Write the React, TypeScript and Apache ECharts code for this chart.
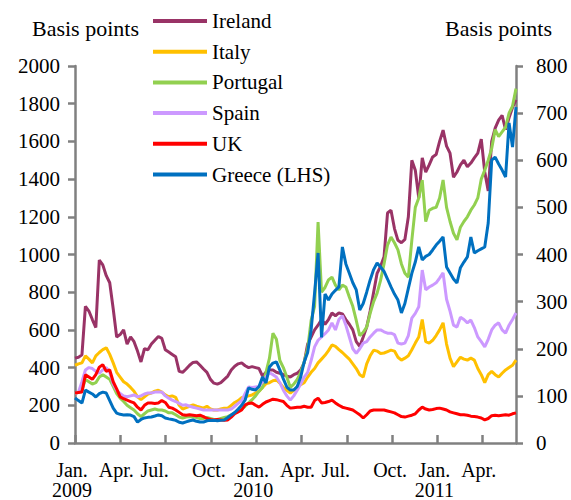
import React, { useEffect, useRef } from "react";
import * as echarts from "echarts";

// Weekly observations, starting first week of Jan. 2009 (basis points)
const ireland = [180,182,187,290,280,262,245,388,378,355,340,285,225,230,240,210,225,215,195,172,200,198,210,218,226,222,198,193,188,183,152,150,157,165,171,172,165,157,150,135,127,125,128,135,142,155,163,168,170,164,160,162,160,158,142,150,155,155,150,148,145,142,140,145,148,155,170,210,225,240,250,262,252,262,276,270,276,274,262,252,240,215,205,225,246,280,320,360,375,395,488,494,455,430,425,432,480,600,579,520,605,575,590,607,612,640,664,630,615,564,575,590,600,586,594,605,615,645,575,535,640,668,685,695,665,690,712,728];
const italy = [165,168,170,185,178,170,185,192,198,202,188,170,150,140,130,125,118,110,98,92,98,104,106,110,112,108,102,98,100,97,80,72,75,78,81,78,76,74,78,72,70,70,72,74,74,80,86,90,96,98,100,102,106,110,118,126,128,132,134,127,118,112,106,112,118,124,128,140,150,158,170,178,186,196,208,205,198,192,185,178,168,158,145,140,168,185,197,195,190,191,194,197,195,182,176,180,185,198,212,225,262,215,212,218,228,240,255,210,180,162,172,182,178,176,180,176,158,145,128,145,152,145,140,148,155,160,165,176];
const portugal = [105,108,112,135,130,125,128,140,145,140,135,120,105,95,88,80,75,70,62,56,62,68,70,72,70,70,68,64,64,60,55,53,55,56,55,54,52,52,54,52,50,50,52,54,56,60,64,68,72,78,85,92,100,110,118,150,180,233,220,175,160,140,118,125,135,150,172,200,260,290,469,320,330,346,352,335,325,335,331,310,290,260,228,235,246,275,300,318,345,380,420,437,425,410,380,360,352,430,500,520,558,470,494,498,500,520,558,500,470,445,431,458,470,480,494,505,520,560,579,600,625,665,650,660,670,700,715,752];
const spain = [105,108,130,155,160,158,152,148,155,160,150,125,112,105,100,98,100,102,98,100,104,106,106,108,108,108,100,95,91,88,84,80,81,78,76,74,72,70,70,70,70,70,70,70,70,72,78,84,90,105,119,118,119,120,130,140,149,145,140,128,112,100,91,100,112,125,140,150,175,204,218,225,232,240,255,240,262,270,250,225,200,190,200,212,215,225,233,240,240,236,233,233,230,212,210,212,228,265,275,289,367,325,331,335,340,350,361,305,280,250,246,267,262,255,261,245,225,215,204,220,240,250,255,240,233,250,262,276];
const uk = [106,107,108,145,140,135,145,161,166,152,155,130,115,98,94,91,88,85,76,70,80,85,85,84,85,90,86,76,74,70,65,60,59,60,59,58,59,56,52,50,49,50,49,48,49,55,62,66,70,81,84,85,80,76,82,87,90,93,92,90,88,80,74,75,76,76,78,76,76,90,95,85,86,88,91,85,80,76,74,72,70,65,60,53,60,68,70,70,70,70,68,66,64,60,56,55,57,59,62,70,76,72,70,71,73,74,72,70,66,64,62,60,60,59,57,56,55,53,49,52,58,59,58,59,60,59,62,64];
const greece = [239,225,212,281,270,260,244,262,270,265,225,185,159,152,149,150,148,140,111,125,133,136,138,143,149,145,133,128,125,120,110,106,112,118,122,115,111,111,118,120,120,118,120,122,135,149,162,180,200,228,292,285,281,300,350,318,403,424,430,387,340,297,281,281,300,350,430,480,600,796,1008,560,790,758,790,810,828,1040,950,900,850,812,706,740,800,865,920,955,934,910,870,828,790,758,690,740,820,900,960,1040,971,990,1000,1024,1050,1070,1093,934,902,870,849,930,960,987,1093,1008,1020,1030,1040,1167,1501,1517,1480,1448,1411,1698,1570,1782];

const seriesNames = ["Ireland", "Italy", "Portugal", "Spain", "UK", "Greece (LHS)"];
const seriesColors = ["#993366", "#FFC000", "#92D050", "#CC99FF", "#FF0000", "#0070C0"];
const quarterLabels = ["Jan.", "Apr.", "Jul.", "Oct.", "Jan.", "Apr.", "Jul.", "Oct.", "Jan.", "Apr."];
const yearLabels = ["2009", "", "", "", "2010", "", "", "", "2011", ""];
const leftTitle = "Basis points";
const rightTitle = "Basis points";

const DAYS_PER_WEEK = 7;
const DAYS_PER_MONTH = 30.4375;

const FONT = "Liberation Serif";
const FS = 20;

export default function App() {
  const ref = useRef<HTMLDivElement>(null);

  useEffect(() => {
    if (!ref.current) return;
    const chart = echarts.init(ref.current, undefined, { renderer: "svg" });
    const toPairs = (arr: number[]) =>
      arr.map((v, i) => [(i * DAYS_PER_WEEK) / DAYS_PER_MONTH, v]);
    const all = [ireland, italy, portugal, spain, uk, greece];
    const maxX = ((ireland.length - 1) * DAYS_PER_WEEK) / DAYS_PER_MONTH;

    const keyFor = (q: string) =>
      q.startsWith("Jan") ? "j" : q.startsWith("Apr") ? "a" : q.startsWith("Jul") ? "l" : "o";
    const tok = (pad: number) => ({
      fontFamily: FONT,
      fontSize: FS,
      color: "#000",
      lineHeight: 20,
      padding: [0, pad, 0, 0],
    });

    chart.setOption({
      animation: false,
      textStyle: { fontFamily: FONT },
      grid: { left: 75, right: 55, top: 66, bottom: 57, containLabel: false, outerBoundsMode: "none" },
      legend: {
        orient: "vertical",
        left: 153,
        top: 10,
        padding: 0,
        icon: "rect",
        itemWidth: 54,
        itemHeight: 4,
        itemGap: 8.7,
        data: seriesNames,
        textStyle: { fontFamily: FONT, fontSize: 21, color: "#000", lineHeight: 22 },
      },
      graphic: [
        {
          type: "text",
          left: 32,
          top: 17,
          style: { text: leftTitle, fontFamily: FONT, fontSize: 22, fill: "#000" },
        },
        {
          type: "text",
          left: 445,
          top: 17,
          style: { text: rightTitle, fontFamily: FONT, fontSize: 22, fill: "#000" },
        },
      ],
      xAxis: {
        type: "value",
        min: 0,
        max: maxX,
        interval: 3,
        splitLine: { show: false },
        axisLine: { lineStyle: { color: "#808080", width: 2.5 } },
        axisTick: { inside: true, length: 8, lineStyle: { color: "#808080", width: 2.5 } },
        axisLabel: {
          margin: 17,
          showMinLabel: true,
          showMaxLabel: false,
          hideOverlap: false,
          fontFamily: FONT,
          fontSize: FS,
          color: "#000",
          formatter: (v: number) => {
            const idx = Math.round(v / 3);
            if (Math.abs(v - idx * 3) > 1e-6 || idx >= quarterLabels.length) return "";
            const q = quarterLabels[idx];
            const k = keyFor(q);
            let s = `{${k}|${q}}`;
            if (yearLabels[idx]) s += `\n{${k}|${yearLabels[idx]}}`;
            return s;
          },
          rich: { j: tok(6), a: tok(8), l: tok(22), o: tok(4) },
        },
      },
      yAxis: [
        {
          type: "value",
          position: "left",
          min: 0,
          max: 2000,
          interval: 200,
          splitLine: { show: false },
          axisLine: { show: true, lineStyle: { color: "#808080", width: 2.5 } },
          axisTick: { show: true, length: 7, lineStyle: { color: "#808080", width: 2.5 } },
          axisLabel: {
            margin: 15,
            fontFamily: FONT,
            fontSize: 21,
            color: "#000",
            showMinLabel: true,
            formatter: (v: number) => String(v),
          },
        },
        {
          type: "value",
          position: "right",
          min: 0,
          max: 800,
          interval: 100,
          splitLine: { show: false },
          axisLine: { show: true, lineStyle: { color: "#808080", width: 2.5 } },
          axisTick: { show: true, length: 7, lineStyle: { color: "#808080", width: 2.5 } },
          axisLabel: {
            margin: 20,
            fontFamily: FONT,
            fontSize: 21,
            color: "#000",
            showMinLabel: true,
            formatter: (v: number) => String(v),
          },
        },
      ],
      series: all.map((arr, i) => ({
        name: seriesNames[i],
        type: "line",
        yAxisIndex: i === 5 ? 0 : 1,
        data: toPairs(arr),
        showSymbol: false,
        symbol: "none",
        color: seriesColors[i],
        lineStyle: { color: seriesColors[i], width: 3 },
        z: 2 + i,
      })),
    });
    return () => chart.dispose();
  }, []);

  return (
    <div
      ref={ref}
      style={{ position: "fixed", left: 0, top: 0, width: 571, height: 500, background: "#fff" }}
    />
  );
}
